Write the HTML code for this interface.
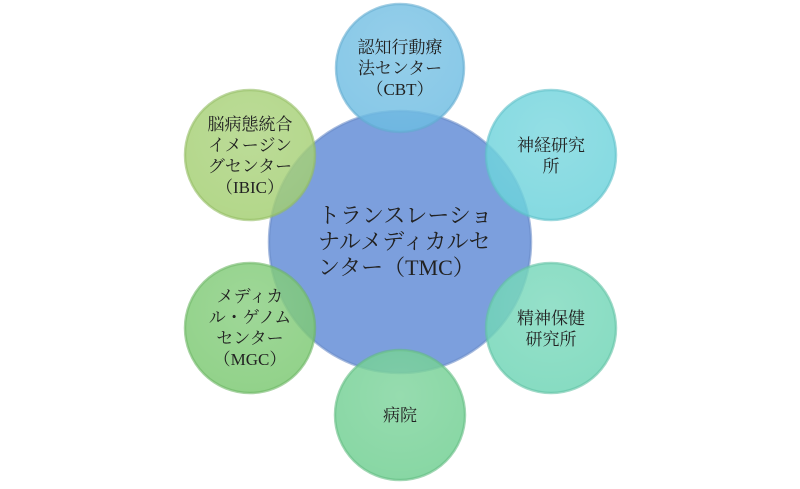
<!DOCTYPE html>
<html><head><meta charset="utf-8"><style>
html,body{margin:0;padding:0;background:#fff;}
svg text{font-family:"Liberation Serif","Noto Serif CJK SC",serif;fill:#222;text-anchor:middle;}
</style></head><body>
<svg width="800" height="484" viewBox="0 0 800 484" xmlns="http://www.w3.org/2000/svg">
<defs>
<radialGradient id="gl" cx="50%" cy="35%" r="65%">
<stop offset="0" stop-color="#fff" stop-opacity="0.12"/>
<stop offset="1" stop-color="#fff" stop-opacity="0"/>
</radialGradient>
</defs>
<g stroke-width="2.5" stroke-opacity="0.6">
<circle cx="400" cy="242" r="131" fill="#789cdc" fill-opacity="0.97" stroke="#6a8cc8"/>
<circle cx="400" cy="68" r="64" fill="#6cbce2" fill-opacity="0.82" stroke="#62acd0"/>
<circle cx="551" cy="155" r="65" fill="#6ad2da" fill-opacity="0.82" stroke="#5ec0c8"/>
<circle cx="551" cy="328" r="65" fill="#6cd4b4" fill-opacity="0.82" stroke="#60c2a4"/>
<circle cx="400" cy="415" r="65" fill="#6ece90" fill-opacity="0.82" stroke="#62bc82"/>
<circle cx="250" cy="328" r="65" fill="#7ac870" fill-opacity="0.82" stroke="#6cb664"/>
<circle cx="250" cy="155" r="65" fill="#a2ce70" fill-opacity="0.82" stroke="#92bc62"/>
</g>
<g fill="url(#gl)">
<circle cx="400" cy="68" r="64"/><circle cx="551" cy="155" r="65"/><circle cx="551" cy="328" r="65"/>
<circle cx="400" cy="415" r="65"/><circle cx="250" cy="328" r="65"/><circle cx="250" cy="155" r="65"/>
</g>
<g font-size="17">
<text x="400" y="53">認知行動療</text>
<text x="400" y="74">法センター</text>
<text x="400" y="95">（CBT）</text>
<text x="551" y="151">神経研究</text>
<text x="551" y="172">所</text>
<text x="551" y="324">精神保健</text>
<text x="551" y="345">研究所</text>
<text x="400" y="421">病院</text>
<text x="250" y="302">メディカ</text>
<text x="250" y="323">ル・ゲノム</text>
<text x="250" y="344">センター</text>
<text x="250" y="365">（MGC）</text>
<text x="250" y="130">脳病態統合</text>
<text x="250" y="151">イメージン</text>
<text x="250" y="172">グセンター</text>
<text x="250" y="193">（IBIC）</text>
</g>
<g font-size="22">
<text x="318" y="223" style="text-anchor:start">トランスレーショ</text>
<text x="318" y="249" style="text-anchor:start">ナルメディカルセ</text>
<text x="318" y="275" style="text-anchor:start">ンター（TMC）</text>
</g>
</svg>
</body></html>
